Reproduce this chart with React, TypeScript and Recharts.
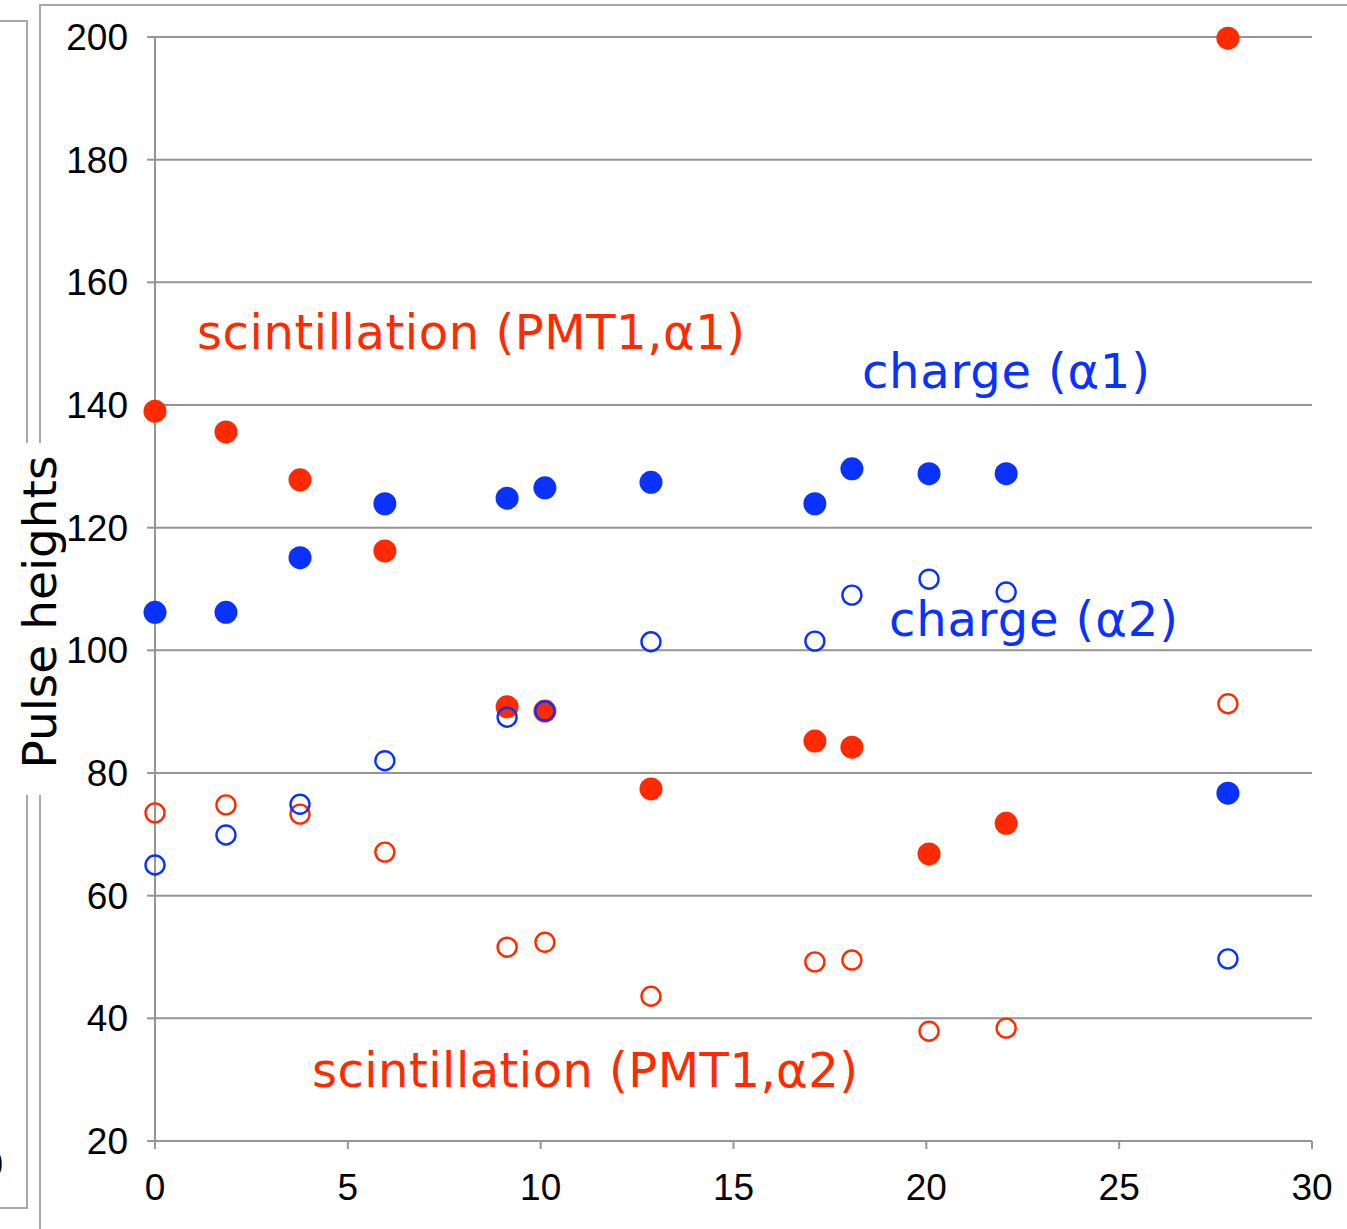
import { ScatterChart, Scatter, XAxis, YAxis, CartesianGrid, ReferenceDot } from 'recharts'

// x positions shared by all four series
const xs = [0, 1.84, 3.76, 5.96, 9.13, 10.11, 12.86, 17.11, 18.07, 20.07, 22.07, 27.82]

const scintA1 = [139.0, 135.6, 127.8, 116.2, 90.8, 90.1, 77.4, 85.2, 84.2, 66.8, 71.8, 199.8]
const chargeA1 = [106.2, 106.2, 115.1, 123.9, 124.8, 126.5, 127.4, 123.9, 129.6, 128.8, 128.8, 76.7]
const scintA2 = [73.5, 74.8, 73.3, 67.1, 51.6, 52.4, 43.6, 49.2, 49.5, 37.9, 38.4, 91.3]
const chargeA2 = [65.0, 69.9, 74.9, 82.0, 89.1, 90.1, 101.4, 101.5, 109.0, 111.6, 109.5, 49.7]

const xTicks = [0, 5, 10, 15, 20, 25, 30]
const yTicks = [20, 40, 60, 80, 100, 120, 140, 160, 180, 200]

const RED = '#ff2a00'
const BLUE = '#0a32ff'
const GRID = '#959595'
const FRAME = '#a8a8a8'
const TICK_FONT = '"Liberation Sans", Arial, sans-serif'
const TEXT_FONT = '"DejaVu Sans", sans-serif'

const toPoints = (ys: number[]) => xs.map((x, i) => ({ x, y: ys[i] }))

const filled = (color: string) => (p: any) => <circle cx={p.cx} cy={p.cy} r={11.5} fill={color} />
const hollow = (color: string) => (p: any) => (
  <circle cx={p.cx} cy={p.cy} r={9.5} fill="none" stroke={color} strokeWidth={2.4} />
)

const note = (text: string, color: string, width: number) => (p: any) => (
  <text
    x={p.cx}
    y={p.cy}
    fill={color}
    fontSize={48}
    fontFamily={TEXT_FONT}
    textLength={width}
    lengthAdjust="spacing"
  >
    {text}
  </text>
)

function YLabel() {
  return (
    <g>
      <rect x={12} y={443} width={58} height={352} fill="#fff" />
      <text
        x={56}
        y={612}
        transform="rotate(-90 56 612)"
        textAnchor="middle"
        fontSize={47}
        fontFamily={TEXT_FONT}
        fill="#000"
      >
        Pulse heights
      </text>
    </g>
  )
}

export default function App() {
  return (
    <div style={{ position: 'absolute', left: 0, top: 0, width: 1347, height: 1229, background: '#fff', overflow: 'hidden' }}>
      {/* frames of the surrounding sheet */}
      <svg width={1347} height={1229} style={{ position: 'absolute', left: 0, top: 0 }}>
        <polyline points="0,21 27,21 27,1208 0,1208" fill="none" stroke={FRAME} strokeWidth={2} />
        <polyline points="40,1229 40,5 1347,5" fill="none" stroke={FRAME} strokeWidth={2} />
        <text x={3} y={1177} textAnchor="end" fontSize={37} fontFamily={TICK_FONT} fill="#000">0</text>
      </svg>
      <div style={{ position: 'absolute', left: 0, top: 0 }}>
        <ScatterChart width={1347} height={1229} margin={{ top: 37, right: 35, bottom: 0, left: 0 }}>
          <CartesianGrid horizontal vertical={false} stroke={GRID} strokeWidth={2} />
          <XAxis
            type="number"
            dataKey="x"
            domain={[0, 30]}
            ticks={xTicks}
            interval={0}
            height={88}
            stroke={GRID}
            strokeWidth={2}
            tickSize={8}
            tickMargin={25}
            tick={{ fill: '#000', fontSize: 37, fontFamily: TICK_FONT }}
          />
          <YAxis
            type="number"
            dataKey="y"
            domain={[20, 200]}
            ticks={yTicks}
            interval={0}
            width={155}
            stroke={GRID}
            strokeWidth={2}
            tickSize={8}
            tickMargin={19}
            tick={{ fill: '#000', fontSize: 37, fontFamily: TICK_FONT }}
            label={{ content: () => <YLabel /> }}
          />
          <Scatter data={toPoints(scintA1)} shape={filled(RED)} isAnimationActive={false} />
          <Scatter data={toPoints(chargeA1)} shape={filled(BLUE)} isAnimationActive={false} />
          <Scatter data={toPoints(scintA2)} shape={hollow(RED)} isAnimationActive={false} />
          <Scatter data={toPoints(chargeA2)} shape={hollow(BLUE)} isAnimationActive={false} />
          <ReferenceDot x={1.09} y={149.1} r={0} shape={note('scintillation (PMT1,α1)', RED, 548)} />
          <ReferenceDot x={18.33} y={142.8} r={0} shape={note('charge (α1)', BLUE, 288)} />
          <ReferenceDot x={19.03} y={102.3} r={0} shape={note('charge (α2)', BLUE, 289)} />
          <ReferenceDot x={4.07} y={28.8} r={0} shape={note('scintillation (PMT1,α2)', RED, 546)} />
        </ScatterChart>
      </div>
    </div>
  )
}
